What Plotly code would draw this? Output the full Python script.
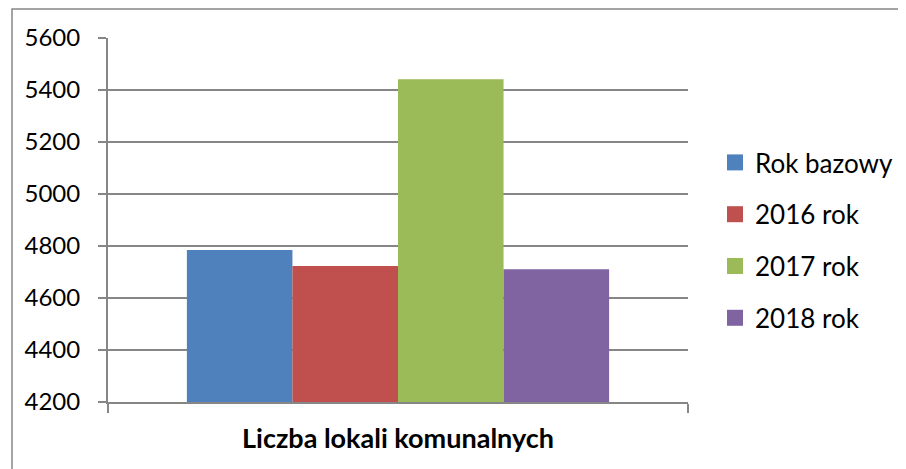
import plotly.graph_objects as go

category = ["Liczba lokali komunalnych"]
series_names = ["Rok bazowy", "2016 rok", "2017 rok", "2018 rok"]
series_values = [[4785], [4723], [5441], [4711]]
colors = ["#4F81BD", "#C0504D", "#9BBB59", "#8064A2"]
y_ticks = [4200, 4400, 4600, 4800, 5000, 5200, 5400, 5600]

FONT = "Lato, Carlito, Calibri, sans-serif"

fig = go.Figure()
for name, vals, col in zip(series_names, series_values, colors):
    fig.add_trace(go.Bar(x=category, y=vals, name=name, marker_color=col,
                         marker_line_width=0, legendgroup=name, showlegend=False))
# legend entries with larger square swatches (Excel style)
for name, col in zip(series_names, colors):
    fig.add_trace(go.Scatter(x=[None], y=[None], mode="markers", name=name,
                             marker=dict(symbol="square", size=17, color=col,
                                         line=dict(width=0)),
                             legendgroup=name, showlegend=True, hoverinfo="skip"))

W, H = 906, 469
L, R, T, B = 100, 680, 30, 394
pw, ph = R - L, B - T

fig.update_layout(
    width=W, height=H,
    margin=dict(l=L, r=W - R, t=T, b=H - B, pad=0),
    paper_bgcolor="white", plot_bgcolor="white",
    barmode="group", bargap=0.272, bargroupgap=0,
    font=dict(family=FONT, size=24, color="#000000"),
    showlegend=True,
    legend=dict(x=(707 - L) / pw, xanchor="left", y=(B - 131) / ph, yanchor="top",
                font=dict(size=26, family=FONT), tracegroupgap=15,
                itemsizing="trace",
                bgcolor="rgba(0,0,0,0)", borderwidth=0),
    xaxis=dict(range=[-0.5, 0.5], tickson="boundaries", ticks="outside", ticklen=9,
               tickcolor="#868686", tickwidth=2, showline=True, linecolor="#868686",
               linewidth=2, showgrid=False,
               tickfont=dict(size=27, family=FONT, weight="bold"), ticklabelstandoff=12),
    yaxis=dict(range=[4200, 5600], tickvals=y_ticks, ticks="outside", ticklen=8,
               tickcolor="#868686", tickwidth=2, showline=True, linecolor="#868686",
               linewidth=2, showgrid=True, gridcolor="#868686", gridwidth=2,
               zeroline=False, tickfont=dict(size=24, family=FONT),
               ticklabelstandoff=13),
    shapes=[dict(type="rect", xref="paper", yref="paper",
                 x0=(4 - L) / pw, x1=(915 - L) / pw,
                 y0=(B - 480) / ph, y1=(B - 1) / ph,
                 line=dict(color="#868686", width=1.5), fillcolor="rgba(0,0,0,0)",
                 layer="below")],
)

fig.write_html("out.html")
